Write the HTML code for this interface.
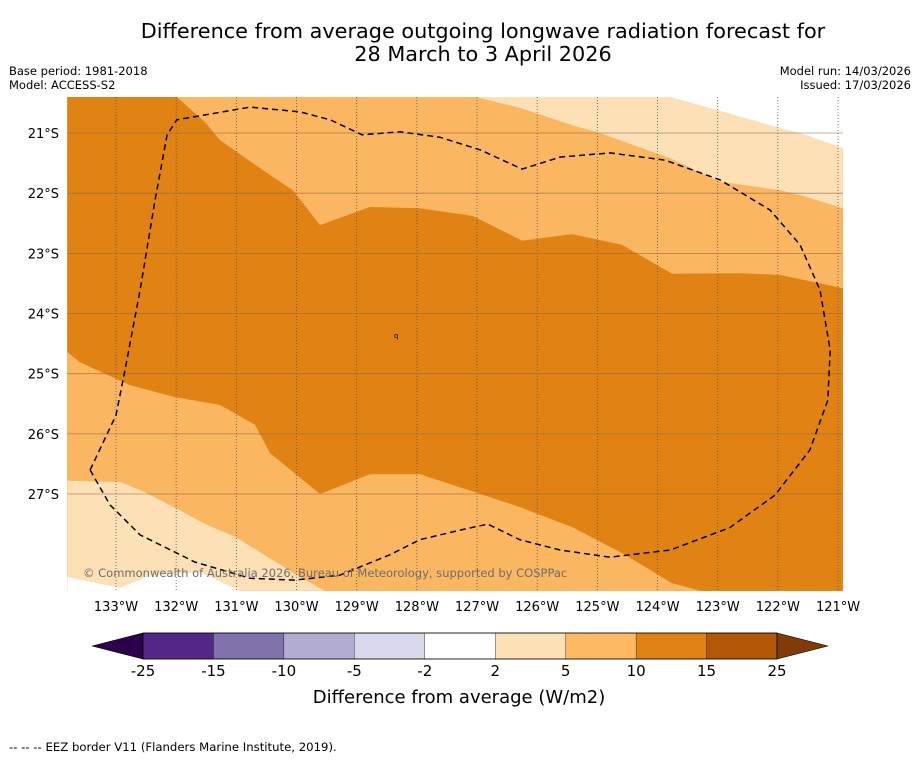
<!DOCTYPE html>
<html><head><meta charset="utf-8"><style>
body{margin:0;background:#fff;font-family:"DejaVu Sans","Liberation Sans",sans-serif;}
svg text{font-family:"DejaVu Sans","Liberation Sans",sans-serif;}
</style></head><body>
<svg id="chart" width="919" height="758" xmlns="http://www.w3.org/2000/svg">
<text x="483" y="38" font-size="20.8" text-anchor="middle">Difference from average outgoing longwave radiation forecast for</text>
<text x="483" y="61" font-size="20.8" text-anchor="middle">28 March to 3 April 2026</text>
<text x="9" y="75" font-size="11.5">Base period: 1981-2018</text>
<text x="9" y="89" font-size="11.5">Model: ACCESS-S2</text>
<text x="911" y="75" font-size="11.5" text-anchor="end">Model run: 14/03/2026</text>
<text x="911" y="89" font-size="11.5" text-anchor="end">Issued: 17/03/2026</text>
<g id="map"></g>
<g id="cbar"></g>
<text x="459" y="703" font-size="18" text-anchor="middle">Difference from average (W/m2)</text>
<text x="9" y="751" font-size="11.7">--  --  -- EEZ border V11 (Flanders Marine Institute, 2019).</text>
</svg>
<script>
const lonTicks=[-133,-132,-131,-130,-129,-128,-127,-126,-125,-124,-123,-122,-121];
const latTicks=[-21,-22,-23,-24,-25,-26,-27];
const darkRegion=[[-133.81,-20.40],[-131.99,-20.40],[-131.52,-20.82],[-131.27,-21.12],[-130.44,-21.70],[-130.06,-21.95],[-129.61,-22.53],[-128.78,-22.23],[-127.95,-22.25],[-127.07,-22.38],[-126.25,-22.79],[-125.42,-22.68],[-124.59,-22.86],[-123.76,-23.34],[-122.63,-23.33],[-121.96,-23.36],[-120.92,-23.58],[-120.92,-28.61],[-123.29,-28.61],[-123.76,-28.48],[-124.59,-27.98],[-125.42,-27.55],[-126.25,-27.23],[-127.03,-26.97],[-127.95,-26.67],[-128.78,-26.67],[-129.61,-27.00],[-130.44,-26.32],[-130.69,-25.85],[-131.27,-25.52],[-132.02,-25.39],[-132.77,-25.19],[-133.60,-24.81],[-133.81,-24.64]];
const lightTop=[[-127.03,-20.40],[-126.29,-20.58],[-125.42,-20.87],[-124.96,-21.00],[-123.79,-21.42],[-122.96,-21.81],[-121.96,-21.95],[-121.63,-22.03],[-120.92,-22.25],[-120.92,-20.40]];
const whiteTop=[[-123.79,-20.40],[-122.96,-20.63],[-121.96,-20.92],[-121.63,-21.00],[-120.92,-21.25],[-120.92,-20.40]];
const lightBottom=[[-133.81,-26.78],[-132.93,-26.80],[-132.52,-26.97],[-131.94,-27.27],[-131.52,-27.50],[-131.02,-27.71],[-129.94,-28.38],[-129.53,-28.61],[-133.81,-28.61]];
const whiteBottom=[[-133.81,-28.38],[-132.93,-28.56],[-132.43,-28.35],[-131.60,-28.30],[-130.94,-28.61],[-133.81,-28.61]];
const eezLine=[[-133.43,-26.60],[-133.00,-25.69],[-132.85,-24.94],[-132.60,-23.61],[-132.35,-22.11],[-132.15,-21.03],[-131.99,-20.78],[-130.77,-20.57],[-129.94,-20.65],[-129.44,-20.78],[-128.91,-21.03],[-128.28,-20.98],[-127.62,-21.07],[-126.95,-21.28],[-126.25,-21.60],[-125.62,-21.40],[-124.79,-21.33],[-123.88,-21.45],[-122.96,-21.78],[-122.13,-22.28],[-121.63,-22.86],[-121.30,-23.61],[-121.13,-24.61],[-121.17,-25.44],[-121.47,-26.27],[-122.05,-27.02],[-122.80,-27.56],[-123.79,-27.93],[-124.79,-28.05],[-125.62,-27.93],[-126.29,-27.76],[-126.82,-27.50],[-127.28,-27.60],[-127.95,-27.76],[-128.45,-28.01],[-129.28,-28.35],[-130.03,-28.43],[-130.77,-28.40],[-131.69,-28.13],[-132.60,-27.68],[-133.10,-27.18],[-133.43,-26.60]];
const cbarLevels=[-25,-15,-10,-5,-2,2,5,10,15,25];
const cbarColors=['#542788','#8073ac','#b2abd2','#d8daeb','#ffffff','#fee0b6','#fdb863','#e08214','#b35806'];

const NS='http://www.w3.org/2000/svg';
const PX=60.17, X0=67, X1=843, Y0=97, Y1=591;
const sx=lon=>116+(lon+133)*PX;
const sy=lat=>133+(-21-lat)*PX;
function mk(tag,attrs,parent){const e=document.createElementNS(NS,tag);for(const k in attrs)e.setAttribute(k,attrs[k]);parent.appendChild(e);return e;}
const pts=a=>a.map(p=>sx(p[0]).toFixed(1)+','+sy(p[1]).toFixed(1)).join(' ');
const map=document.getElementById('map');
const defs=mk('defs',{},map);
const cp=mk('clipPath',{id:'clip'},defs);
mk('rect',{x:X0,y:Y0,width:X1-X0,height:Y1-Y0},cp);
const g=mk('g',{'clip-path':'url(#clip)'},map);
const bg=mk('rect',{x:X0,y:Y0,width:X1-X0,height:Y1-Y0,fill:'#fbb662'},g);


const regions=[[darkRegion,'#e08214','region-10-15'],[lightTop,'#fee0b6','region-2-5-north'],[whiteTop,'#ffffff','region-neutral-north'],[lightBottom,'#fee0b6','region-2-5-south'],[whiteBottom,'#ffffff','region-neutral-south']];
regions.forEach(r=>{const p=mk('polygon',{points:pts(r[0]),fill:r[1]},g);

});
lonTicks.forEach(l=>{const x=sx(l);
const ln=mk('line',{x1:x,x2:x,y1:Y0,y2:Y1,stroke:'#555','stroke-width':0.8,'stroke-dasharray':'1,2'},g);


const t=mk('text',{x:x,y:611,'font-size':13,'text-anchor':'middle'},map);t.textContent=Math.abs(l)+'°W';

});
latTicks.forEach(l=>{const y=sy(l);
const ln=mk('line',{x1:X0,x2:X1,y1:y,y2:y,stroke:'#8a6a40','stroke-width':0.8,'stroke-opacity':0.7},g);


const t=mk('text',{x:59,y:y+5,'font-size':13,'text-anchor':'end'},map);t.textContent=Math.abs(l)+'°S';

});
const eez=mk('polyline',{points:pts(eezLine),fill:'none',stroke:'#000','stroke-width':1.5,'stroke-dasharray':'6,4'},g);


const q=mk('text',{x:394,y:338,'font-size':7},g);q.textContent='q';


const cr=mk('text',{x:83,y:577,'font-size':11.5,fill:'#6e6e6e'},g);cr.textContent='© Commonwealth of Australia 2026, Bureau of Meteorology, supported by COSPPac';



const cb=document.getElementById('cbar');
const CX0=143, CX1=777, CY=633, CH=26;
const bw=(CX1-CX0)/(cbarLevels.length-1);
mk('polygon',{points:`92,${CY+CH/2} ${CX0},${CY} ${CX0},${CY+CH}`,fill:'#2d004b',stroke:'#000','stroke-width':0.6},cb);
mk('polygon',{points:`828,${CY+CH/2} ${CX1},${CY} ${CX1},${CY+CH}`,fill:'#7f3b08',stroke:'#000','stroke-width':0.6},cb);
cbarColors.forEach((c,i)=>{const r=mk('rect',{x:CX0+i*bw,y:CY,width:bw,height:CH,fill:c,stroke:'#000','stroke-width':0.3},cb);

});
mk('rect',{x:CX0,y:CY,width:CX1-CX0,height:CH,fill:'none',stroke:'#000','stroke-width':0.8},cb);
cbarLevels.forEach((v,i)=>{const t=mk('text',{x:CX0+i*bw,y:676,'font-size':15,'text-anchor':'middle'},cb);t.textContent=v;

});
</script>
</body></html>
